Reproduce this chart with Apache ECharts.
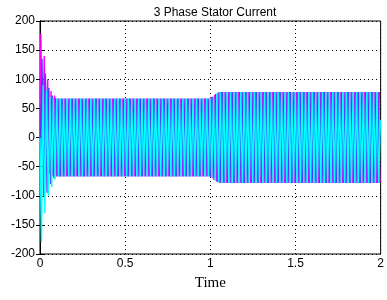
<!DOCTYPE html>
<html>
<head>
<meta charset="utf-8">
<style>
  html, body { margin: 0; padding: 0; background: #fff; }
  #chart { width: 387px; height: 300px; }
</style>
<script src="https://cdn.jsdelivr.net/npm/echarts@6/dist/echarts.min.js"></script>
</head>
<body>
<div id="chart"></div>
<script>
// axis ticks
const xTicks = [0, 0.5, 1, 1.5, 2]
const yTicks = [-200, -150, -100, -50, 0, 50, 100, 150, 200]

// each phase is listed by its half-cycle peaks (50 Hz -> one peak every 0.01 s)
const peakStep = 0.01
const phaseStart = [0.005, 0.00167, 0.00833]
const phaseNames = ['Ia', 'Ib', 'Ic']
const phaseColors = ['#ff00ff', '#4a3cff', '#00ffff']

const peaksA = [
  178, -40, 140, -60, 100, -62, 80, -66, 72, -67,
  67, -67, 67, -67, 67, -67, 67, -67, 67, -67,
  67, -67, 67, -67, 67, -67, 67, -67, 67, -67,
  67, -67, 67, -67, 67, -67, 67, -67, 67, -67,
  67, -67, 67, -67, 67, -67, 67, -67, 67, -67,
  67, -67, 67, -67, 67, -67, 67, -67, 67, -67,
  67, -67, 67, -67, 67, -67, 67, -67, 67, -67,
  67, -67, 67, -67, 67, -67, 67, -67, 67, -67,
  67, -67, 67, -67, 67, -67, 67, -67, 67, -67,
  67, -67, 67, -67, 67, -67, 67, -67, 67, -67,
  69, -70, 73, -75, 77, -78, 78, -78, 78, -78,
  78, -78, 78, -78, 78, -78, 78, -78, 78, -78,
  78, -78, 78, -78, 78, -78, 78, -78, 78, -78,
  78, -78, 78, -78, 78, -78, 78, -78, 78, -78,
  78, -78, 78, -78, 78, -78, 78, -78, 78, -78,
  78, -78, 78, -78, 78, -78, 78, -78, 78, -78,
  78, -78, 78, -78, 78, -78, 78, -78, 78, -78,
  78, -78, 78, -78, 78, -78, 78, -78, 78, -78,
  78, -78, 78, -78, 78, -78, 78, -78, 78, -78,
  78, -78, 78, -78, 78, -78, 78, -78, 78, -78
]
const peaksB = [
  -60, 135, -100, 110, -95, 85, -80, 72, -70, 68,
  -67, 67, -67, 67, -67, 67, -67, 67, -67, 67,
  -67, 67, -67, 67, -67, 67, -67, 67, -67, 67,
  -67, 67, -67, 67, -67, 67, -67, 67, -67, 67,
  -67, 67, -67, 67, -67, 67, -67, 67, -67, 67,
  -67, 67, -67, 67, -67, 67, -67, 67, -67, 67,
  -67, 67, -67, 67, -67, 67, -67, 67, -67, 67,
  -67, 67, -67, 67, -67, 67, -67, 67, -67, 67,
  -67, 67, -67, 67, -67, 67, -67, 67, -67, 67,
  -67, 67, -67, 67, -67, 67, -67, 67, -67, 67,
  -69, 70, -73, 75, -77, 78, -78, 78, -78, 78,
  -78, 78, -78, 78, -78, 78, -78, 78, -78, 78,
  -78, 78, -78, 78, -78, 78, -78, 78, -78, 78,
  -78, 78, -78, 78, -78, 78, -78, 78, -78, 78,
  -78, 78, -78, 78, -78, 78, -78, 78, -78, 78,
  -78, 78, -78, 78, -78, 78, -78, 78, -78, 78,
  -78, 78, -78, 78, -78, 78, -78, 78, -78, 78,
  -78, 78, -78, 78, -78, 78, -78, 78, -78, 78,
  -78, 78, -78, 78, -78, 78, -78, 78, -78, 78,
  -78, 78, -78, 78, -78, 78, -78, 78, -78, 78
]
const peaksC = [
  -180, 90, -130, 80, -100, 70, -85, 68, -72, 67,
  -67, 67, -67, 67, -67, 67, -67, 67, -67, 67,
  -67, 67, -67, 67, -67, 67, -67, 67, -67, 67,
  -67, 67, -67, 67, -67, 67, -67, 67, -67, 67,
  -67, 67, -67, 67, -67, 67, -67, 67, -67, 67,
  -67, 67, -67, 67, -67, 67, -67, 67, -67, 67,
  -67, 67, -67, 67, -67, 67, -67, 67, -67, 67,
  -67, 67, -67, 67, -67, 67, -67, 67, -67, 67,
  -67, 67, -67, 67, -67, 67, -67, 67, -67, 67,
  -67, 67, -67, 67, -67, 67, -67, 67, -67, 67,
  -69, 70, -73, 75, -77, 78, -78, 78, -78, 78,
  -78, 78, -78, 78, -78, 78, -78, 78, -78, 78,
  -78, 78, -78, 78, -78, 78, -78, 78, -78, 78,
  -78, 78, -78, 78, -78, 78, -78, 78, -78, 78,
  -78, 78, -78, 78, -78, 78, -78, 78, -78, 78,
  -78, 78, -78, 78, -78, 78, -78, 78, -78, 78,
  -78, 78, -78, 78, -78, 78, -78, 78, -78, 78,
  -78, 78, -78, 78, -78, 78, -78, 78, -78, 78,
  -78, 78, -78, 78, -78, 78, -78, 78, -78, 78,
  -78, 78, -78, 78, -78, 78, -78, 78, -78, 30
]
const phasePeaks = [peaksA, peaksB, peaksC]

// pair each peak with its sample time
function toPoints(peaks, start) {
  let res = [[0, 0]]
  for (let i = 0; i < peaks.length; i++) {
    res.push([start + i * peakStep, peaks[i]])
  }
  return res
}

let myChart = echarts.init(document.getElementById('chart'), null, { renderer: 'canvas' })

let gridLine = {
  show: true,
  lineStyle: { color: '#000', width: 1, type: [1, 3] }
}

let option = {
  animation: false,
  backgroundColor: '#fff',
  title: {
    text: '3 Phase Stator Current',
    left: 210,
    textAlign: 'center',
    top: 2,
    textStyle: {
      fontFamily: 'Liberation Sans, Arial',
      fontSize: 12,
      fontWeight: 'normal',
      color: '#000'
    }
  },
  grid: {
    left: 40,
    right: 6,
    top: 21,
    bottom: 46,
    show: true,
    borderColor: '#000',
    borderWidth: 1,
    backgroundColor: '#fff'
  },
  xAxis: [
    {
      type: 'value',
      min: 0,
      max: 2,
      interval: 0.5,
      name: 'Time',
      nameLocation: 'middle',
      nameGap: 22,
      nameTextStyle: {
        fontFamily: 'Liberation Serif, Times New Roman, serif',
        fontSize: 15,
        color: '#000'
      },
      axisLine: { show: true, lineStyle: { color: '#000' } },
      axisTick: { show: true, inside: true, length: 4, lineStyle: { color: '#000' } },
      axisLabel: {
        fontFamily: 'Liberation Sans, Arial',
        fontSize: 12,
        color: '#000',
        margin: 4,
        formatter: function (v) { return xTicks.indexOf(v) >= 0 ? String(v) : '' }
      },
      splitLine: gridLine
    },
    {
      type: 'value',
      position: 'top',
      min: 0,
      max: 2,
      interval: 0.5,
      axisLine: { show: true, lineStyle: { color: '#000' } },
      axisTick: { show: true, inside: true, length: 4, lineStyle: { color: '#000' } },
      axisLabel: { show: false },
      splitLine: { show: false }
    }
  ],
  yAxis: [
    {
      type: 'value',
      min: -200,
      max: 200,
      interval: 50,
      axisLine: { show: true, lineStyle: { color: '#000' } },
      axisTick: { show: true, inside: true, length: 4, lineStyle: { color: '#000' } },
      axisLabel: {
        fontFamily: 'Liberation Sans, Arial',
        fontSize: 12,
        color: '#000',
        margin: 5,
        formatter: function (v) { return yTicks.indexOf(v) >= 0 ? String(v) : '' }
      },
      splitLine: gridLine
    },
    {
      type: 'value',
      position: 'right',
      min: -200,
      max: 200,
      interval: 50,
      axisLine: { show: true, lineStyle: { color: '#000' } },
      axisTick: { show: true, inside: true, length: 4, lineStyle: { color: '#000' } },
      axisLabel: { show: false },
      splitLine: { show: false }
    }
  ],
  series: phasePeaks.map(function (peaks, i) {
    return {
      name: phaseNames[i],
      type: 'line',
      showSymbol: false,
      symbol: 'none',
      data: toPoints(peaks, phaseStart[i]),
      lineStyle: { color: phaseColors[i], width: 1.4 },
      z: 2 + i
    }
  })
}

myChart.setOption(option)
</script>
</body>
</html>
